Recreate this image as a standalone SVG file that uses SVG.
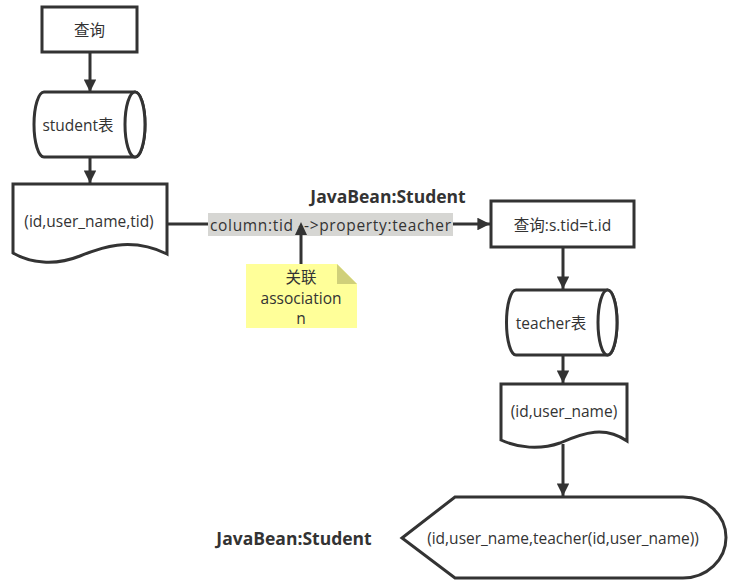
<svg xmlns="http://www.w3.org/2000/svg" width="735" height="588" viewBox="0 0 735 588">
<defs>
<marker id="ah" viewBox="0 0 10 10" refX="10" refY="5" markerWidth="4.2" markerHeight="4.2" orient="auto" markerUnits="strokeWidth">
<path d="M0,0 L10,5 L0,10 Z" fill="#333"/>
</marker>
<style>
.shape{fill:#fff;stroke:#333;stroke-width:3}
.conn{fill:none;stroke:#333;stroke-width:3;marker-end:url(#ah)}
.t{font-family:"Open Sans","Noto Sans CJK SC",sans-serif;font-size:15.5px;fill:#333;text-anchor:middle;dominant-baseline:central}
.b{font-family:"Open Sans","Noto Sans CJK SC",sans-serif;font-size:17.5px;font-weight:bold;fill:#333;text-anchor:middle;dominant-baseline:central}
</style>
</defs>
<rect width="735" height="588" fill="#fff"/>
<g id="connectors">
<path class="conn" d="M90,52 V92"/>
<path class="conn" d="M90,157 V183"/>
<path class="conn" d="M167,224 H490"/>
<path class="conn" d="M563,247 V289"/>
<path class="conn" d="M563,355 V383"/>
<path class="conn" d="M563,444 V496"/>
</g>
<g id="label-assoc">
<rect x="208" y="213" width="245" height="23" fill="#d6d6d3"/>
<text class="t" x="330.5" y="225" textLength="241" lengthAdjust="spacing">column:tid --&gt;property:teacher</text>
<line x1="301" y1="234" x2="301" y2="264" stroke="#333" stroke-width="3"/>
<path d="M301,222 l-6,13 h12 z" fill="#333"/>
</g>
<g id="n-query">
<rect class="shape" x="42" y="7" width="95" height="45"/>
<text class="t" x="89.5" y="30">查询</text>
</g>
<g id="n-student-table">
<path class="shape" d="M44,92 H135 A10,32.5 0 0 1 135,157 H44 A10,32.5 0 0 1 44,92 Z"/>
<ellipse class="shape" cx="135" cy="124.5" rx="10" ry="32.5"/>
<text class="t" x="78" y="125">student表</text>
</g>
<g id="n-student-doc">
<path class="shape" d="M13,184 H167 V254 C130,236 100,248 80,256 C55,266 30,263 13,253 Z"/>
<text class="t" x="89" y="221">(id,user_name,tid)</text>
</g>
<g id="t-javabean1">
<text class="b" x="388" y="196">JavaBean:Student</text>
</g>
<g id="n-note">
<path d="M246,264 H337 L357,284 V328 H246 Z" fill="#ffff99"/>
<path d="M337,264 L357,284 H337 Z" fill="#d0d07a"/>
<text class="t" x="301" y="277">关联</text>
<text class="t" x="301" y="298">association</text>
<text class="t" x="301" y="318">n</text>
</g>
<g id="n-query2">
<rect class="shape" x="491" y="201" width="143" height="46"/>
<text class="t" x="562.5" y="225">查询:s.tid=t.id</text>
</g>
<g id="n-teacher-table">
<path class="shape" d="M516,290 H607.5 A9.5,32.5 0 0 1 607.5,355 H516 A9.5,32.5 0 0 1 516,290 Z"/>
<ellipse class="shape" cx="607.5" cy="322.5" rx="9.5" ry="32.5"/>
<text class="t" x="551" y="323">teacher表</text>
</g>
<g id="n-teacher-doc">
<path class="shape" d="M501,384 H627 V441 C605,426 585,432 560,443 C540,450 518,448 501,440 Z"/>
<text class="t" x="564" y="411">(id,user_name)</text>
</g>
<g id="n-result">
<path class="shape" d="M402,538 L455,497 H683 A43,40.5 0 0 1 683,578 H455 Z"/>
<text class="t" x="563" y="538">(id,user_name,teacher(id,user_name))</text>
</g>
<g id="t-javabean2">
<text class="b" x="294" y="538">JavaBean:Student</text>
</g>
</svg>
